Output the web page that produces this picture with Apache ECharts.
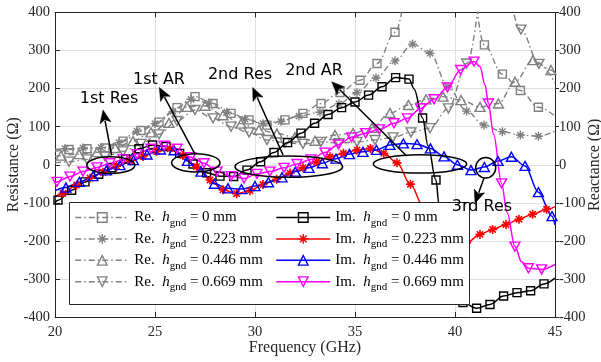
<!DOCTYPE html>
<html><head><meta charset="utf-8">
<script src="https://cdn.jsdelivr.net/npm/echarts@6/dist/echarts.min.js"></script>
<style>html,body{margin:0;padding:0;background:#fff}#c{width:601px;height:362px}</style>
</head><body><div id="c"></div>
<script>
// ---------- axes ----------
const freqMin = 20, freqMax = 45, freqStep = 5;
const valMin = -400, valMax = 400, valStep = 100;
const hgnd = ['0', '0.223', '0.446', '0.669'];

// ---------- Resistance (left axis), marker points [GHz, Ohm] ----------
const reH0 = [[20.7,40],[21.6,42],[22.5,44],[23.4,62],[24.3,90],[25.2,112],[26.1,150],[27.0,179],[27.9,161],[28.8,135],[29.7,118],[30.6,104],[31.5,118],[32.4,135],[33.3,161],[34.25,190],[35.25,222],[36.1,266],[37.0,348],[37.9,520],[38.8,630],[39.7,650],[40.6,560],[41.47,315],[42.37,238],[43.27,195],[44.17,151]];
const reH0Curve = [[20.0,35],[45,128]];
const reH1 = [[20.5,42],[21.4,44],[22.3,45],[23.2,58],[24.1,88],[25.0,108],[25.9,140],[26.8,172],[27.7,162],[28.6,138],[29.5,120],[30.4,108],[31.3,114],[32.2,128],[33.25,138],[34.2,160],[35.1,190],[36.05,228],[37.0,273],[37.88,317],[38.75,293],[39.65,205],[40.58,141],[41.45,104],[42.37,87],[43.27,78],[44.17,75]];
const reH1Curve = [[20.0,40],[45,88]];
const reH2 = [[20.3,24],[21.2,28],[22.1,33],[23.0,44],[23.9,62],[24.8,85],[25.7,110],[26.6,152],[27.5,155],[28.4,130],[29.3,108],[30.2,92],[31.1,82],[32.0,72],[33.0,63],[34.0,78],[34.9,83],[35.85,97],[36.75,136],[37.67,157],[38.55,172],[39.4,179],[40.3,170],[41.25,152],[42.17,161],[43.0,218],[43.9,275],[44.8,249]];
const reH2Curve = [[20.0,22],[45,240]];
const reH3 = [[20.7,8],[21.6,14],[22.5,22],[23.4,35],[24.3,55],[25.2,80],[26.1,115],[27.0,144],[27.9,122],[28.8,100],[29.7,85],[30.6,65],[31.5,58],[32.4,55],[33.3,60],[34.2,57],[35.1,60],[36.0,65],[36.9,72],[37.8,85],[38.75,96],[39.67,148],[40.58,266],[41.5,470],[42.4,475],[43.3,355],[44.2,265]];
const reH3Curve = [[20.0,5],[45,215]];

// ---------- Reactance (right axis), marker points [GHz, Ohm] ----------
const imH0 = [[20.15,-93],[20.83,-67],[21.5,-45],[22.18,-25],[22.85,-8],[23.53,15],[24.2,42],[24.88,52],[25.55,48],[26.23,30],[26.9,2],[27.58,-21],[28.25,-30],[28.93,-31],[29.6,-14],[30.28,8],[30.95,32],[31.63,58],[32.3,83],[32.98,109],[33.65,132],[34.33,150],[35.0,165],[35.68,183],[36.35,205],[37.03,229],[37.7,225],[38.38,123],[39.05,-40],[39.73,-300],[40.4,-362],[41.08,-377],[41.75,-367],[42.43,-345],[43.1,-336],[43.78,-331],[44.45,-313]];
const imH0Curve = [[20.0,-100],[37.95,200],[38.65,50],[39.2,-105],[39.4,-190],[45,-298]];
const imH1 = [[20.4,-75],[21.08,-53],[21.75,-35],[22.4,-20],[23.08,-4],[23.75,10],[24.4,22],[25.08,35],[25.75,42],[26.4,24],[27.08,-5],[27.75,-40],[28.4,-66],[29.08,-76],[29.75,-68],[30.4,-52],[31.08,-38],[31.75,-22],[32.4,-8],[33.08,8],[33.75,21],[34.42,30],[35.1,39],[35.77,43],[36.44,30],[37.1,5],[37.77,-51],[38.42,-110],[39.1,-175],[39.9,-210],[40.58,-205],[41.25,-183],[41.88,-170],[42.55,-157],[43.2,-143],[43.88,-130],[44.58,-117]];
const imH1Curve = [[20.0,-85],[45,-110]];
const imH2 = [[20.55,-60],[21.22,-45],[21.9,-30],[22.57,-15],[23.25,-1],[23.92,12],[24.6,27],[25.27,40],[25.95,38],[26.62,10],[27.3,-18],[27.97,-50],[28.65,-62],[29.32,-64],[30.0,-56],[30.67,-46],[31.35,-33],[32.02,-18],[32.7,-8],[33.37,4],[34.05,16],[34.72,28],[35.4,34],[36.07,39],[36.75,52],[37.42,56],[38.1,54],[38.77,43],[39.45,22],[40.12,0],[40.8,-14],[41.47,-6],[42.15,10],[42.82,21],[43.5,-3],[44.17,-72],[44.85,-135]];
const imH2Curve = [[20.0,-68],[45,-158]];
const imH3 = [[20.1,-45],[20.75,-31],[21.4,-18],[22.1,-7],[22.75,4],[23.4,14],[24.1,28],[24.8,42],[25.45,50],[26.1,42],[26.8,20],[27.45,4],[28.1,-18],[28.8,-30],[29.45,-36],[30.1,-24],[30.75,-18],[31.45,-8],[32.1,2],[32.8,14],[33.5,32],[34.17,53],[34.83,72],[35.53,83],[36.22,93],[36.95,109],[37.62,122],[38.28,148],[38.95,172],[39.62,203],[40.28,249],[40.95,271],[41.67,161],[42.33,-49],[43.0,-215],[43.67,-272],[44.33,-275]];
const imH3Curve = [[20.0,-48],[41.25,258],[41.5,210],[41.93,80],[42.6,-125],[43.33,-255],[45,-262]];

// ---------- annotations (data coords) ----------
const annText = ['1st Res', '1st AR', '2nd Res', '2nd AR', '3rd Res'];
const annTextAt = [[22.7,173],[25.2,223],[29.25,236],[32.95,246],[41.35,-111]];
const annArrowFrom = [[22.83,25],[27.0,28],[31.4,26],[37.585,23],[41.45,-35]];
const annArrowTo = [[22.4,144],[25.215,203],[29.885,203],[33.835,218],[41.0,-101]];
const annEllipse = [[22.79,-1,1.2,22],[27.04,5,1.21,24],[31.69,-5,2.69,28],[38.25,2,2.335,24],[41.535,-8,0.5,27]];

// ---------- styling ----------
const GRAY = '#808080';
const imColors = ['#000000', '#ff0000', '#0000ff', '#ff00ff'];
const ASTERISK = 'path://M5,0L5,10M0,5L10,5M1.5,1.5L8.5,8.5M1.5,8.5L8.5,1.5';
const markerDefs = [
  {symbol: 'rect', size: 8, rotate: 0},
  {symbol: ASTERISK, size: 9, rotate: 0},
  {symbol: 'triangle', size: [10, 9], rotate: 0},
  {symbol: 'triangle', size: [10, 9], rotate: 180}
];
const SERIF = 'Liberation Serif';

function mergePts(markers, curve) {
  const out = markers.map(p => ({value: p}));
  curve.forEach(p => out.push({value: p, symbol: 'none'}));
  out.sort((a, b) => a.value[0] - b.value[0]);
  return out;
}

const reSets = [[reH0, reH0Curve], [reH1, reH1Curve], [reH2, reH2Curve], [reH3, reH3Curve]];
const imSets = [[imH0, imH0Curve], [imH1, imH1Curve], [imH2, imH2Curve], [imH3, imH3Curve]];

const series = [];
const reNames = [], imNames = [];
reSets.forEach((s, i) => {
  const name = 'Re.|' + hgnd[i];
  reNames.push(name);
  const m = markerDefs[i];
  series.push({
    name, type: 'line', xAxisIndex: 0, yAxisIndex: 0,
    data: mergePts(s[0], s[1]),
    symbol: m.symbol, symbolSize: m.size, symbolRotate: m.rotate,
    smooth: 0.35, smoothMonotone: 'x', clip: true,
    lineStyle: {color: GRAY, width: 1.4, type: [6, 3, 1.5, 3]},
    itemStyle: {color: 'none', borderColor: GRAY, borderWidth: 1.4},
    emphasis: {disabled: true}, z: 2
  });
});
imSets.forEach((s, i) => {
  const name = 'Im.|' + hgnd[i];
  imNames.push(name);
  const m = markerDefs[i];
  series.push({
    name, type: 'line', xAxisIndex: 0, yAxisIndex: 1,
    data: mergePts(s[0], s[1]),
    symbol: m.symbol, symbolSize: m.size, symbolRotate: m.rotate,
    smooth: 0.35, smoothMonotone: 'x', clip: true,
    lineStyle: {color: imColors[i], width: 1.5, type: 'solid'},
    itemStyle: {color: 'none', borderColor: imColors[i], borderWidth: i === 1 ? 1.6 : 1.4},
    emphasis: {disabled: true}, z: 3
  });
});

const rich = {
  t: {fontFamily: SERIF, fontSize: 15, color: '#000', lineHeight: 22},
  h: {fontFamily: SERIF, fontSize: 15, fontStyle: 'italic', color: '#000', lineHeight: 22},
  s: {fontFamily: SERIF, fontSize: 11, color: '#000', lineHeight: 8, verticalAlign: 'bottom'}
};
function legendFmt(name) {
  const [pre, val] = name.split('|');
  return '{t|' + pre + '  }{h|h}{s|gnd}{t| = ' + val + ' mm}';
}
function legendCfg(names, left) {
  return {
    data: names, orient: 'vertical', left: left, top: 210, padding: 0,
    itemWidth: 54, itemHeight: 12, itemGap: 2.9, selectedMode: false,
    formatter: legendFmt, textStyle: {rich: rich},
    itemStyle: {borderWidth: 1.4}, lineStyle: {width: 1.5}, z: 6
  };
}

const axisCommonX = {type: 'value', min: freqMin, max: freqMax, interval: freqStep};
const axisCommonY = {type: 'value', min: valMin, max: valMax, interval: valStep};
const lineCol = '#262626';
const option = {
  animation: false,
  backgroundColor: '#fff',
  grid: {left: 55, right: 46, top: 12.5, bottom: 45, containLabel: false, outerBoundsMode: 'none'},
  xAxis: [
    Object.assign({}, axisCommonX, {
      position: 'bottom', name: 'Frequency (GHz)', nameLocation: 'middle', nameGap: 23, nameMoveOverlap: false,
      nameTextStyle: {fontFamily: SERIF, fontSize: 16, color: lineCol},
      axisLine: {show: true, onZero: false, lineStyle: {color: lineCol, width: 1}},
      axisTick: {show: true, inside: true, length: 5, lineStyle: {color: lineCol}},
      axisLabel: {fontFamily: SERIF, fontSize: 14.5, color: lineCol, margin: 8},
      splitLine: {show: true, lineStyle: {color: '#e0e0e0', width: 1}}
    }),
    Object.assign({}, axisCommonX, {
      position: 'top',
      axisLine: {show: true, onZero: false, lineStyle: {color: lineCol, width: 1}},
      axisTick: {show: true, inside: true, length: 5, lineStyle: {color: lineCol}},
      axisLabel: {show: false}, splitLine: {show: false}
    })
  ],
  yAxis: [
    Object.assign({}, axisCommonY, {
      position: 'left', name: 'Resistance (\u03A9)', nameLocation: 'middle', nameGap: 33, nameRotate: 90, nameMoveOverlap: false,
      nameTextStyle: {fontFamily: SERIF, fontSize: 16, color: lineCol},
      axisLine: {show: true, onZero: false, lineStyle: {color: lineCol, width: 1}},
      axisTick: {show: true, inside: true, length: 5, lineStyle: {color: lineCol}},
      axisLabel: {fontFamily: SERIF, fontSize: 14.5, color: lineCol, margin: 5},
      splitLine: {show: true, lineStyle: {color: '#e0e0e0', width: 1}}
    }),
    Object.assign({}, axisCommonY, {
      position: 'right', name: 'Reactance (\u03A9)', nameLocation: 'middle', nameGap: 32, nameRotate: 90, nameMoveOverlap: false,
      nameTextStyle: {fontFamily: SERIF, fontSize: 16, color: lineCol},
      axisLine: {show: true, onZero: false, lineStyle: {color: lineCol, width: 1}},
      axisTick: {show: true, inside: false, length: 4, lineStyle: {color: lineCol}},
      axisLabel: {fontFamily: SERIF, fontSize: 14.5, color: lineCol, margin: 4},
      splitLine: {show: false}
    })
  ],
  legend: [legendCfg(reNames, 74.5), legendCfg(imNames, 275.5)],
  series: series
};

const chart = echarts.init(document.getElementById('c'), null, {renderer: 'canvas'});
chart.setOption(option);

// ---------- legend box & annotations ----------
const P = (p) => chart.convertToPixel({xAxisIndex: 0, yAxisIndex: 0}, p);
const graphics = [{
  type: 'rect', z: 5,
  shape: {x: 69.5, y: 202.5, width: 400, height: 102},
  style: {fill: '#fff', stroke: '#262626', lineWidth: 1}
}];
annEllipse.forEach(e => {
  const c = P([e[0], e[1]]);
  const r = P([e[0] + e[2], e[1] + e[3]]);
  graphics.push({type: 'ellipse', z: 20,
    shape: {cx: c[0], cy: c[1], rx: Math.abs(r[0] - c[0]), ry: Math.abs(c[1] - r[1])},
    style: {fill: 'none', stroke: '#000', lineWidth: 1.5}});
});
annArrowFrom.forEach((a, i) => {
  const p0 = P(a), p1 = P(annArrowTo[i]);
  const dx = p1[0] - p0[0], dy = p1[1] - p0[1];
  const L = Math.hypot(dx, dy), ux = dx / L, uy = dy / L;
  const hl = 13, hw = 5.5;
  const bx = p1[0] - ux * hl, by = p1[1] - uy * hl;
  graphics.push({type: 'line', z: 20,
    shape: {x1: p0[0], y1: p0[1], x2: bx + ux * 2, y2: by + uy * 2},
    style: {stroke: '#000', lineWidth: 1.5}});
  graphics.push({type: 'polygon', z: 20,
    shape: {points: [[p1[0], p1[1]], [bx - uy * hw, by + ux * hw], [bx + ux * 3, by + uy * 3], [bx + uy * hw, by - ux * hw]]},
    style: {fill: '#000', stroke: '#000', lineWidth: 0.5}});
});
annText.forEach((t, i) => {
  const p = P(annTextAt[i]);
  graphics.push({type: 'text', z: 21, x: p[0], y: p[1],
    style: {text: t, fontFamily: 'DejaVu Sans', fontSize: 16, fill: '#000', align: 'center', verticalAlign: 'middle'}});
});
chart.setOption({graphic: graphics});
</script>
</body></html>
